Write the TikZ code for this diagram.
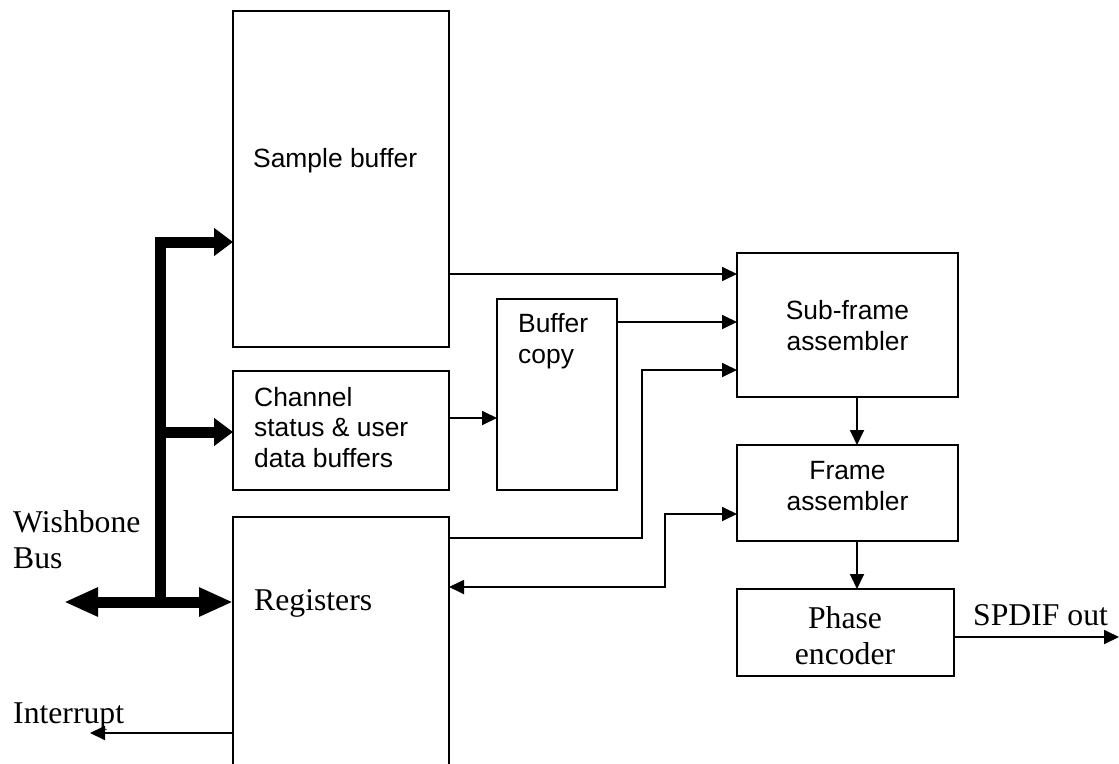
\documentclass[tikz,border=0pt]{standalone}
\usepackage{fontspec}
\setmainfont{Liberation Serif}
\newfontfamily\arialf{Liberation Sans}
\usetikzlibrary{arrows.meta}
\begin{document}
\begin{tikzpicture}[x=1pt,y=-1pt,
  box/.style={draw,line width=1.8pt,inner sep=0pt,outer sep=0pt,anchor=north west},
  sans/.style={font=\arialf\fontsize{26.4}{30.5}\selectfont,inner sep=0pt},
  serif/.style={font=\fontsize{31.7}{36}\selectfont,inner sep=0pt},
  conn/.style={line width=1.8pt,-{Triangle[length=15pt,width=14pt]}},
  conn2/.style={line width=1.8pt,{Triangle[length=15pt,width=14pt]}-{Triangle[length=15pt,width=14pt]}},
  busbranch/.style={line width=11pt,line join=miter,-{Triangle[length=19pt,width=27pt]}},
  busmain/.style={line width=11pt,{Triangle[length=34pt,width=27pt]}-{Triangle[length=34pt,width=27pt]}}
]
\useasboundingbox (0,0) rectangle (1119,763);
\clip (0,0) rectangle (1119,763);

% boxes
\node[box,minimum width=216pt,minimum height=336pt] (sample) at (233,11) {};
\node[box,minimum width=216pt,minimum height=119pt] (chan) at (233,371) {};
\node[box,minimum width=216pt,minimum height=270pt] (reg) at (233,517) {};
\node[box,minimum width=120pt,minimum height=191pt] (bcopy) at (497,299) {};
\node[box,minimum width=221pt,minimum height=144pt] (sub) at (737,253) {};
\node[box,minimum width=221pt,minimum height=96pt] (frame) at (737,445) {};
\node[box,minimum width=217pt,minimum height=87pt] (phase) at (737,589) {};

% texts in boxes (base anchor = baseline of the last line)
\node[sans,anchor=base west] (tsample) at (253,167) {Sample buffer};
\node[sans,anchor=base west,align=left] (tchan) at (254,467) {Channel\\status \& user\\data buffers};
\node[serif,anchor=base west] (treg) at (254,610) {Registers};
\node[sans,anchor=base west,align=left] (tbcopy) at (518,363) {Buffer\\copy};
\node[sans,anchor=base,align=center] (tsub) at (847.5,350) {Sub-frame\\assembler};
\node[sans,anchor=base,align=center] (tframe) at (847.5,510) {Frame\\assembler};
\node[serif,anchor=base,align=center] (tphase) at (845,664) {Phase\\encoder};

% outside labels
\node[serif,anchor=base west,align=left] (twb) at (13,568) {Wishbone\\Bus};
\node[serif,anchor=base west] (tirq) at (13,723) {Interrupt};
\node[serif,anchor=base west] (tspdif) at (973,625) {SPDIF out};

% free ends and junctions
\coordinate (wb) at (64,602);
\coordinate (jn) at (160,602);
\coordinate (jc) at (160,432);
\coordinate (irq) at (90,733);
\coordinate (spdif) at (1119,637);

% thick bus
\draw[busbranch] (jn) -- (160,242) -- ([yshift=-231pt]sample.north west);
\draw[busbranch] (jc) -- ([yshift=-61pt]chan.north west);
\draw[busmain] (wb) -- ([yshift=-85pt]reg.north west);

% thin connectors
\draw[conn] ([yshift=-263pt]sample.north east) -- ([yshift=-21pt]sub.north west);
\draw[conn] ([yshift=-23pt]bcopy.north east) -- ([yshift=-69pt]sub.north west);
\draw[conn] ([yshift=-21pt]reg.north east) -- ++(193,0) |- ([yshift=-117pt]sub.north west);
\draw[conn] ([yshift=-47pt]chan.north east) -- ([yshift=-119pt]bcopy.north west);
\draw[conn] ([xshift=120pt]sub.south west) -- ([xshift=120pt]frame.north west);
\draw[conn] ([xshift=120pt]frame.south west) -- ([xshift=120pt]phase.north west);
\draw[conn2] ([yshift=-70pt]reg.north east) -| ([xshift=-72pt,yshift=-69pt]frame.north west) -- ([yshift=-69pt]frame.north west);
\draw[conn] ([yshift=-216pt]reg.north west) -- (irq);
\draw[conn] ([yshift=-48pt]phase.north east) -- (spdif);
\end{tikzpicture}
\end{document}
